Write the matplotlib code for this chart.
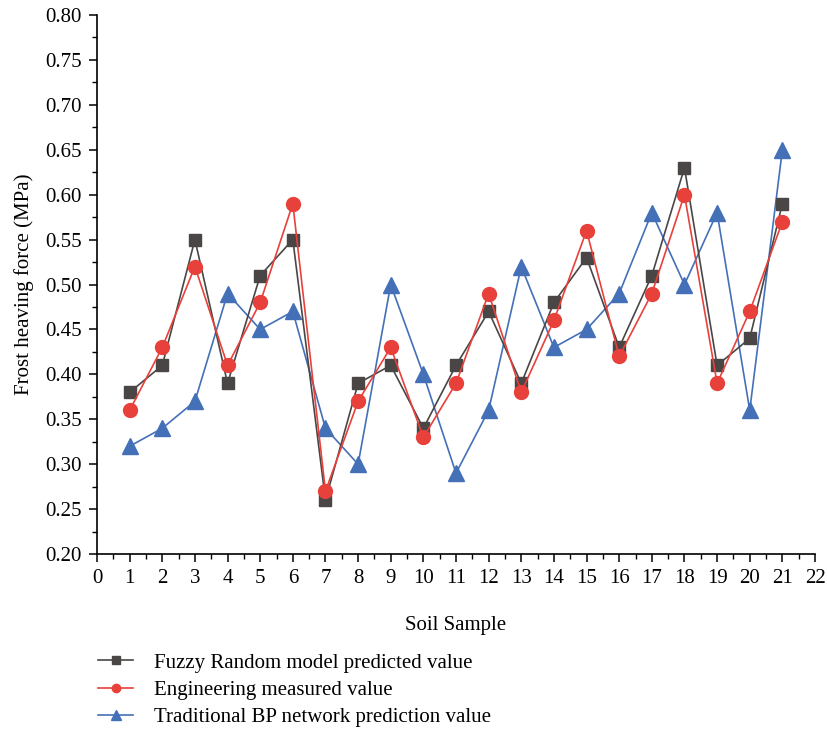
import matplotlib
matplotlib.use("Agg")
import matplotlib.pyplot as plt
from matplotlib.ticker import MultipleLocator

plt.rcParams['font.family'] = ['Liberation Serif', 'DejaVu Serif']

samples = list(range(1, 22))
fuzzy_pred = [0.38, 0.41, 0.55, 0.39, 0.51, 0.55, 0.26, 0.39, 0.41, 0.34, 0.41,
              0.47, 0.39, 0.48, 0.53, 0.43, 0.51, 0.63, 0.41, 0.44, 0.59]
measured = [0.36, 0.43, 0.52, 0.41, 0.48, 0.59, 0.27, 0.37, 0.43, 0.33, 0.39,
            0.49, 0.38, 0.46, 0.56, 0.42, 0.49, 0.60, 0.39, 0.47, 0.57]
bp_pred = [0.32, 0.34, 0.37, 0.49, 0.45, 0.47, 0.34, 0.30, 0.50, 0.40, 0.29,
           0.36, 0.52, 0.43, 0.45, 0.49, 0.58, 0.50, 0.58, 0.36, 0.65]
labels = ["Fuzzy Random model predicted value",
          "Engineering measured value",
          "Traditional BP network prediction value"]

fig = plt.figure(figsize=(8.27, 7.29), dpi=100)
ax = fig.add_axes([0.1173, 0.240, 0.8682, 0.7394])

l1, = ax.plot(samples, fuzzy_pred, color='#4a4646', lw=1.2, marker='s', ms=9,
              label=labels[0], zorder=3)
l2, = ax.plot(samples, measured, color='#e8403a', lw=1.2, marker='o', ms=10,
              label=labels[1], zorder=4)
l3, = ax.plot(samples, bp_pred, color='#4470b8', lw=1.2, marker='^', ms=11,
              label=labels[2], zorder=2)

ax.set_xlim(0, 22)
ax.set_ylim(0.20, 0.80)
ax.xaxis.set_major_locator(MultipleLocator(1))
ax.xaxis.set_minor_locator(MultipleLocator(0.5))
ax.yaxis.set_major_locator(MultipleLocator(0.05))
ax.yaxis.set_minor_locator(MultipleLocator(0.025))
ax.yaxis.set_major_formatter(plt.FormatStrFormatter('%.2f'))

for s in ('top', 'right'):
    ax.spines[s].set_visible(False)
for s in ('left', 'bottom'):
    ax.spines[s].set_linewidth(1.2)
ax.tick_params(which='major', direction='out', length=6, width=1.1,
               labelsize=15, pad=5)
ax.tick_params(which='minor', direction='out', length=3.5, width=1.0)

ax.set_xlabel('Soil Sample', fontsize=15, labelpad=20)
ax.set_ylabel('Frost heaving force (MPa)', fontsize=15, labelpad=8)

fig.legend(handles=[l1, l2, l3], loc='upper left',
           bbox_to_anchor=(0.1185, 0.104), frameon=False, fontsize=15,
           markerscale=0.6, handlelength=1.7, handletextpad=1.0,
           labelspacing=0.36, borderaxespad=0, borderpad=0)

fig.savefig('out.png', dpi=100)
